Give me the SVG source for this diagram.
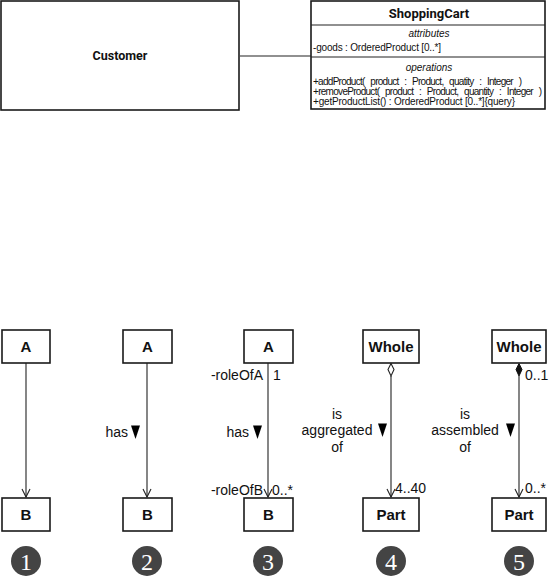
<svg xmlns="http://www.w3.org/2000/svg" width="550" height="576" viewBox="0 0 550 576">
<defs>
<style>
.box{fill:#fff;stroke:#1a1a1a;stroke-width:1.6}
.ln{fill:none;stroke:#222;stroke-width:1.1}
.t{font-family:"Liberation Sans",Arial,sans-serif;fill:#111}
.tb{font-family:Roboto,"Liberation Sans",sans-serif;font-weight:bold;fill:#111}
.m{font-size:10px}
.ws{word-spacing:3.6px}
.a{font-family:"Liberation Sans",Arial,sans-serif;font-size:14px;fill:#111}
.ab{font-family:"Liberation Sans",Arial,sans-serif;font-size:15px;font-weight:bold;fill:#111;text-anchor:middle}
.num{fill:#444}
.nt{font-family:"Liberation Serif","Times New Roman",serif;font-size:24px;fill:#fff;text-anchor:middle}
.tri{fill:#000}
</style>
<marker id="open" markerWidth="12" markerHeight="12" refX="5" refY="9" orient="0" markerUnits="userSpaceOnUse">
<path d="M1,1 L5,9 L9,1" fill="none" stroke="#222" stroke-width="1.1"/>
</marker>
</defs>

<g id="customer">
<rect class="box" x="1" y="1" width="238" height="109"/>
<text class="tb" x="120" y="60" font-size="12.5" text-anchor="middle">Customer</text>
</g>

<g id="shoppingcart">
<rect class="box" x="311" y="1" width="234" height="108"/>
<line class="ln" x1="311" y1="25" x2="545" y2="25" stroke-width="1.5"/>
<line class="ln" x1="311" y1="57" x2="545" y2="57" stroke-width="1.5"/>
<text class="tb" x="429" y="18" font-size="13" text-anchor="middle">ShoppingCart</text>
<text class="t m" x="429" y="37" text-anchor="middle" font-style="italic">attributes</text>
<text class="t m" x="313" y="51" textLength="128" lengthAdjust="spacing">-goods : OrderedProduct [0..*]</text>
<text class="t m" x="429" y="71" text-anchor="middle" font-style="italic">operations</text>
<text class="t m ws" x="313" y="84.5" textLength="209" lengthAdjust="spacing">+addProduct( product : Product, quatity : Integer )</text>
<text class="t m ws" x="313" y="94.5" textLength="229" lengthAdjust="spacing">+removeProduct( product : Product, quantity : Integer )</text>
<text class="t m" x="313" y="104.5" textLength="202" lengthAdjust="spacing">+getProductList() : OrderedProduct [0..*]{query}</text>
</g>

<g id="connectors">
<line class="ln" x1="240" y1="56" x2="311" y2="56"/>
<line class="ln" x1="26" y1="363" x2="26" y2="497" marker-end="url(#open)"/>
<line class="ln" x1="147" y1="363" x2="147" y2="497" marker-end="url(#open)"/>
<line class="ln" x1="268" y1="363" x2="268" y2="497" marker-end="url(#open)"/>
<line class="ln" x1="391" y1="376" x2="391" y2="497" marker-end="url(#open)"/>
<path d="M391,363.5 L394,369.5 L391,376 L388,369.5 Z" fill="#fff" stroke="#222" stroke-width="1.1"/>
<line class="ln" x1="519" y1="376" x2="519" y2="497" marker-end="url(#open)"/>
<path d="M519,363.5 L522,369.5 L519,376 L516,369.5 Z" fill="#111" stroke="#111" stroke-width="1"/>
</g>

<g id="labels">
<text class="a" x="128" y="437" text-anchor="end">has</text>
<path class="tri" d="M131,425.5 L140,425.5 L135.5,439 Z"/>

<text class="a" x="263" y="380" text-anchor="end">-roleOfA</text>
<text class="a" x="273" y="380">1</text>
<text class="a" x="249" y="437" text-anchor="end">has</text>
<path class="tri" d="M253,425.5 L262,425.5 L257.5,439 Z"/>
<text class="a" x="263" y="495" text-anchor="end">-roleOfB</text>
<text class="a" x="272" y="495">0..*</text>

<text class="a" x="337" y="419" text-anchor="middle">is</text>
<text class="a" x="337" y="435" text-anchor="middle">aggregated</text>
<text class="a" x="337" y="452" text-anchor="middle">of</text>
<path class="tri" d="M378,423.5 L387,423.5 L382.5,437 Z"/>
<text class="a" x="395" y="493">4..40</text>

<text class="a" x="465" y="419" text-anchor="middle">is</text>
<text class="a" x="465" y="435" text-anchor="middle">assembled</text>
<text class="a" x="465" y="452" text-anchor="middle">of</text>
<path class="tri" d="M506,423.5 L515,423.5 L510.5,437 Z"/>
<text class="a" x="525" y="380">0..1</text>
<text class="a" x="525" y="493">0..*</text>
</g>

<g id="a1"><rect class="box" x="2" y="330" width="48" height="33"/><text class="ab" x="26" y="352">A</text></g>
<g id="b1"><rect class="box" x="2" y="498" width="48" height="33"/><text class="ab" x="26" y="520">B</text></g>
<g id="a2"><rect class="box" x="123" y="330" width="49" height="33"/><text class="ab" x="147.5" y="352">A</text></g>
<g id="b2"><rect class="box" x="123" y="498" width="49" height="33"/><text class="ab" x="147.5" y="520">B</text></g>
<g id="a3"><rect class="box" x="244" y="330" width="49" height="33"/><text class="ab" x="268.5" y="352">A</text></g>
<g id="b3"><rect class="box" x="244" y="498" width="49" height="33"/><text class="ab" x="268.5" y="520">B</text></g>
<g id="whole4"><rect class="box" x="363" y="330" width="56" height="33"/><text class="ab" x="391" y="352">Whole</text></g>
<g id="part4"><rect class="box" x="363" y="498" width="56" height="33"/><text class="ab" x="391" y="520">Part</text></g>
<g id="whole5"><rect class="box" x="492" y="330" width="54" height="33"/><text class="ab" x="519" y="352">Whole</text></g>
<g id="part5"><rect class="box" x="492" y="498" width="54" height="33"/><text class="ab" x="519" y="520">Part</text></g>

<g id="n1"><circle class="num" cx="26" cy="561" r="15"/><text class="nt" x="26" y="569.5">1</text></g>
<g id="n2"><circle class="num" cx="147" cy="561" r="15"/><text class="nt" x="147" y="569.5">2</text></g>
<g id="n3"><circle class="num" cx="268" cy="561" r="15"/><text class="nt" x="268" y="569.5">3</text></g>
<g id="n4"><circle class="num" cx="391" cy="561" r="15"/><text class="nt" x="391" y="569.5">4</text></g>
<g id="n5"><circle class="num" cx="519" cy="561" r="15"/><text class="nt" x="519" y="569.5">5</text></g>
</svg>
